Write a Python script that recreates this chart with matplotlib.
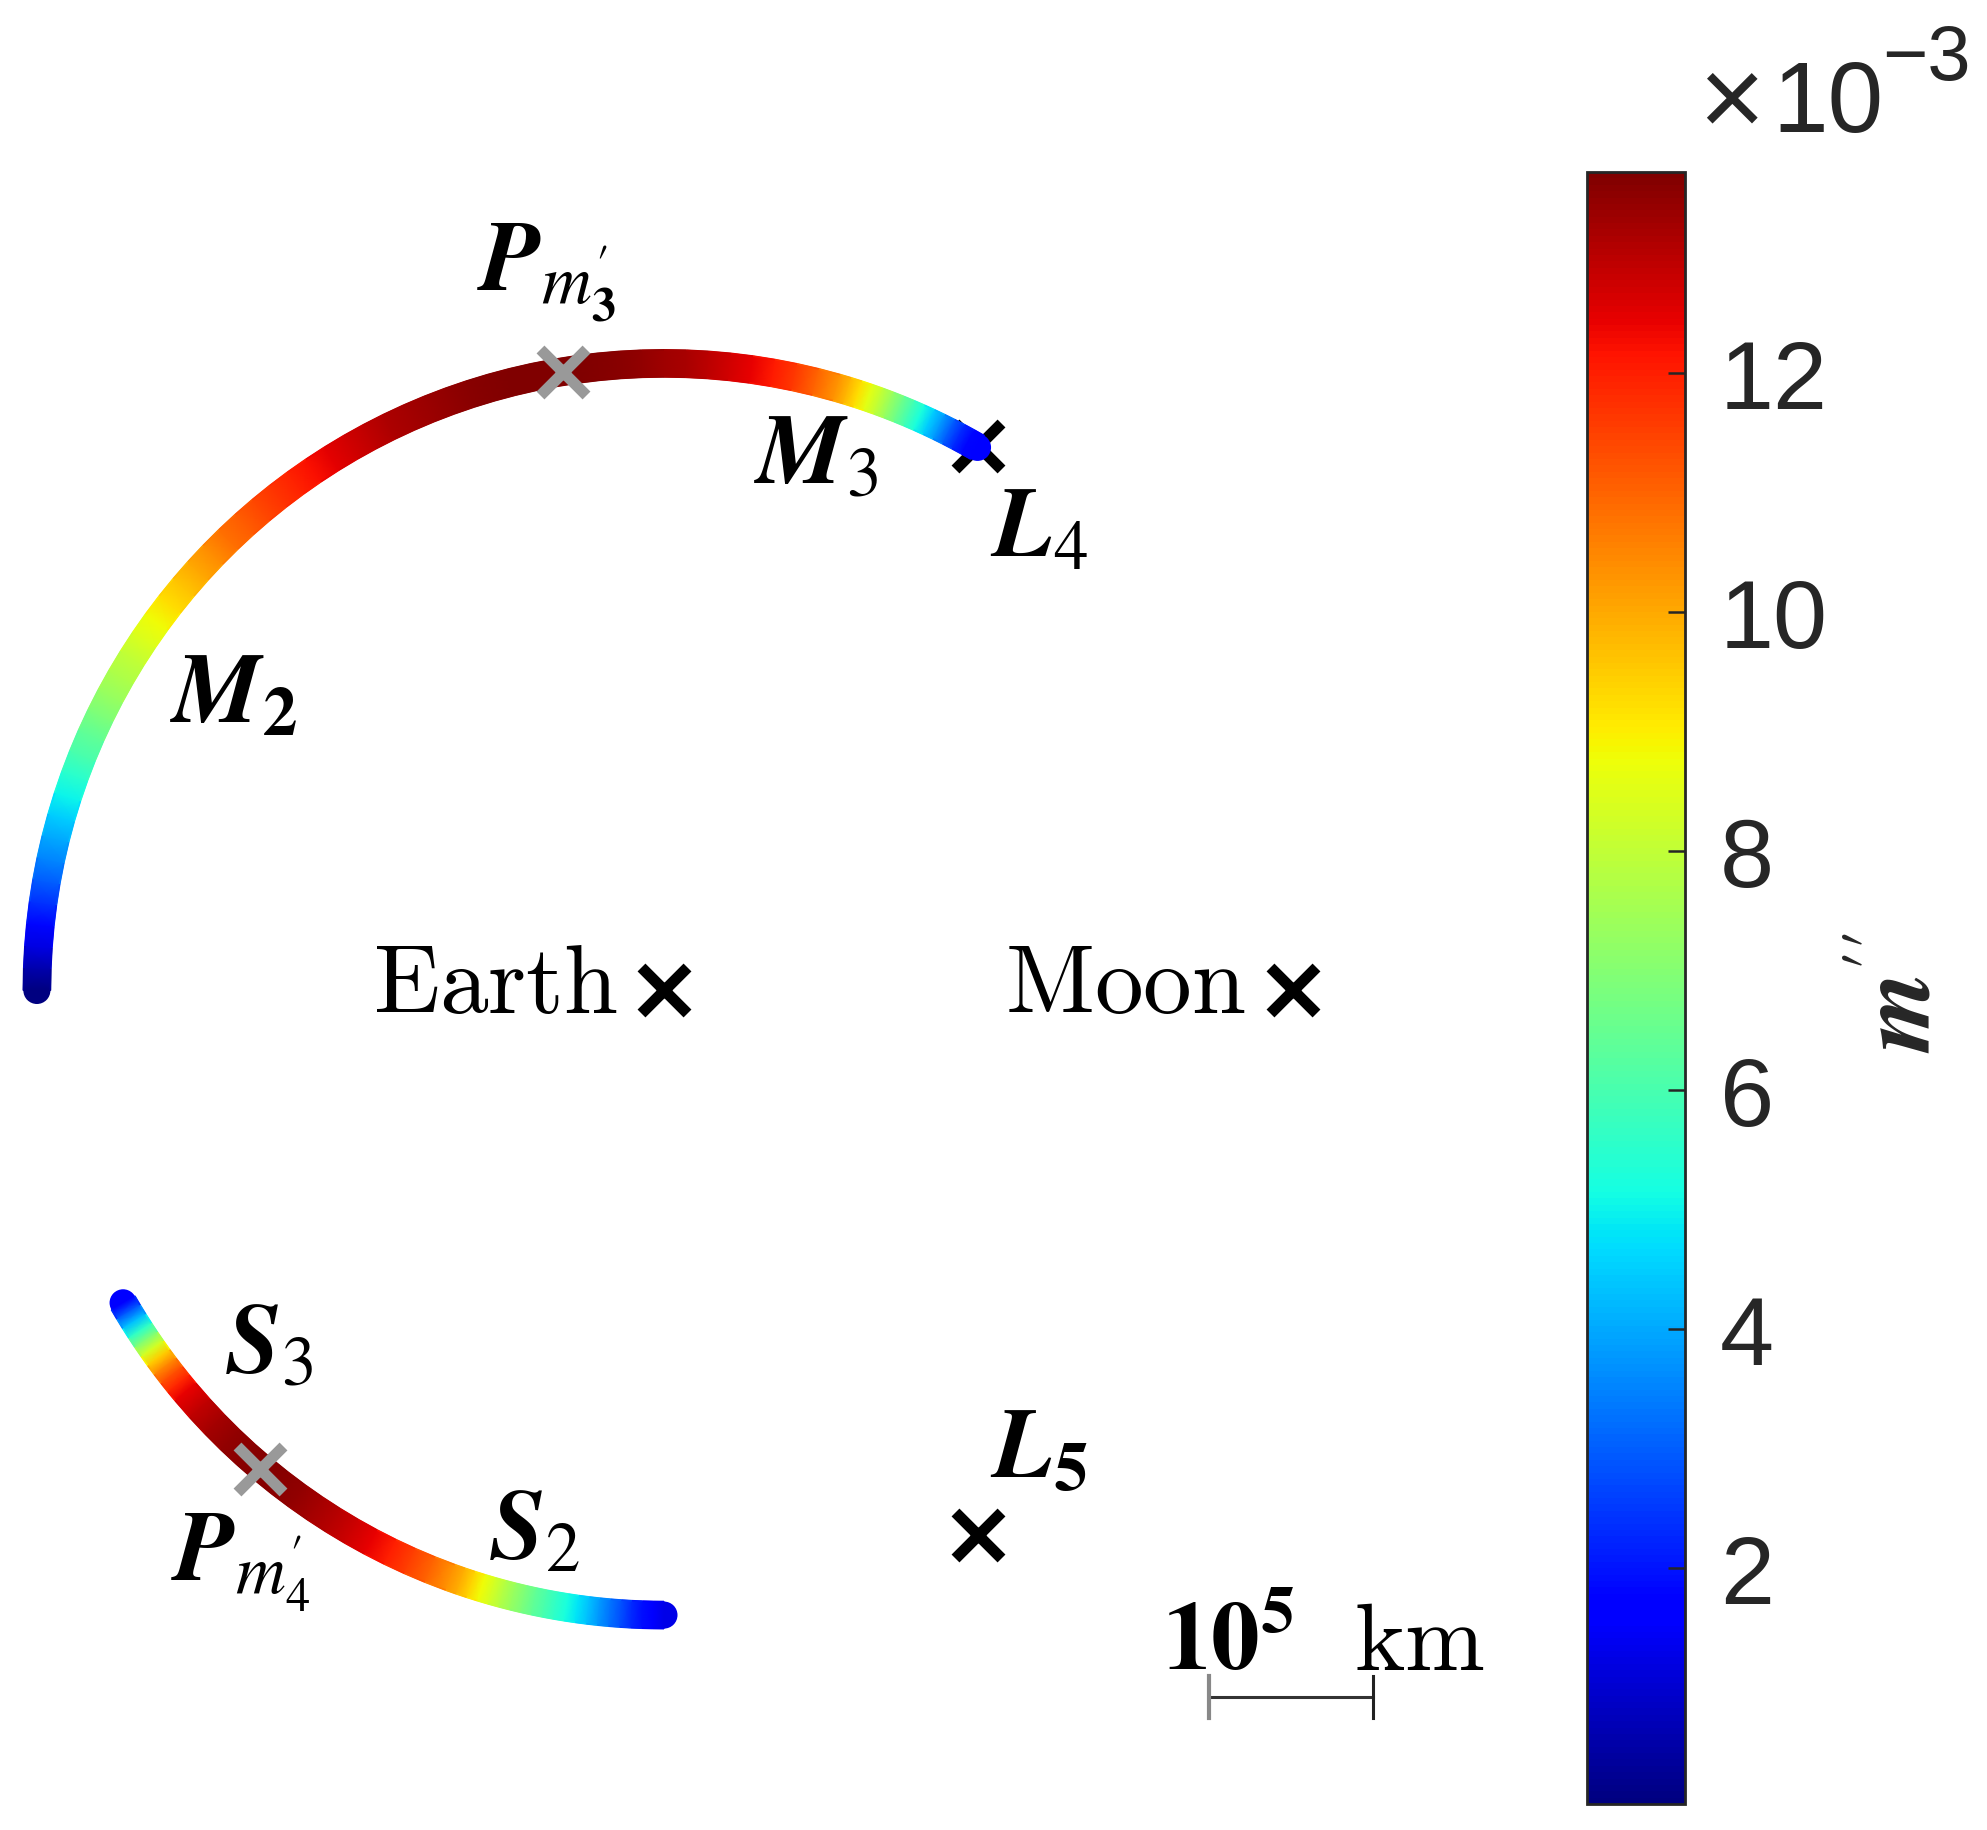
import numpy as np
import matplotlib
matplotlib.use('Agg')
import matplotlib.pyplot as plt
from matplotlib.collections import LineCollection
from matplotlib.colors import Normalize
from matplotlib.patches import Circle
import matplotlib.cm as cm

plt.rcParams['font.family'] = ['Liberation Sans', 'DejaVu Sans']

# ---------------- data (normalized Earth-Moon rotating frame) ----------------
mu = 0.01215
body_names = ['Earth', 'Moon']
body_x = [-mu, 1 - mu]
body_y = [0.0, 0.0]
lagrange_names = ['L4', 'L5']
lagrange_x = [0.5 - mu, 0.5 - mu]
lagrange_y = [np.sqrt(3) / 2, -np.sqrt(3) / 2]

# upper family (M2 -> M3), polar angle about Earth [deg] and m'' [x1e-3]
upper_theta = [180, 178, 176, 174, 172, 170, 168, 166, 164, 162, 160, 158, 156, 154,
               152, 150, 148, 146, 144, 142, 140, 138, 136, 134, 132, 130, 128, 126,
               124, 122, 120, 118, 116, 114, 112, 110, 108, 106, 104, 102, 100, 98,
               96, 94, 92, 90, 88, 86, 84, 82, 80, 78, 76, 74, 73, 72, 71, 70, 69,
               68, 67, 66, 65, 64, 63, 62, 61, 60]
upper_m = [0.021, 0.6, 1.2, 1.8, 2.4, 3.0, 3.5, 4.0, 4.5, 5.0, 5.5, 6.0, 6.4, 6.9,
           7.3, 7.7, 8.0, 8.4, 8.8, 9.2, 9.6, 10.0, 10.4, 10.8, 11.1, 11.4, 11.7, 11.95,
           12.2, 12.5, 12.7, 12.9, 13.1, 13.25, 13.35, 13.45, 13.55, 13.6, 13.65, 13.67, 13.68, 13.67,
           13.62, 13.55, 13.45, 13.3, 13.15, 12.95, 12.7, 12.4, 12.05, 11.6, 11.0, 10.3, 9.8, 9.2, 8.6, 8.0, 7.3,
           6.6, 5.9, 5.2, 4.5, 3.8, 3.0, 2.3, 1.8, 1.6]
upper_radius = 0.997

# lower family (S3 -> S2)
lower_theta = [210, 211, 212, 213, 214, 215, 216, 217, 218, 219, 220, 222, 224, 226,
               228, 230, 232, 234, 236, 238, 240, 242, 244, 246, 248, 250, 251, 252,
               253, 254, 255, 256, 257, 258, 259, 260, 261, 262, 263, 264, 265, 266,
               267, 268, 269, 270]
lower_m = [1.7, 3.0, 4.3, 5.6, 7.0, 8.3, 9.5, 10.5, 11.3, 11.9, 12.4, 12.9, 13.25, 13.45,
           13.55, 13.6, 13.55, 13.45, 13.25, 13.0, 12.75, 12.4, 12.0, 11.5, 11.0, 10.3, 9.9, 9.4,
           8.8, 8.3, 7.8, 7.3, 6.9, 6.4, 6.0, 5.6, 5.2, 4.8, 4.3, 3.8, 3.3, 2.8,
           2.3, 1.9, 1.6, 1.3]
lower_radius = 0.993

# points of maximum m'' (P_m3', P_m4')
pmax_x = [-0.1728, -0.6550]
pmax_y = [0.9833, -0.7603]

cbar_ticks = [2, 4, 6, 8, 10, 12]
cbar_ticklabels = ['2', '4', '6', '8', '10', '12']
scale_km = 1e5
earth_moon_km = 384400.0

# ---------------- figure ----------------
W, H = 1987, 1831
fig = plt.figure(figsize=(W / 100, H / 100), dpi=100)
ax = fig.add_axes([0, 0, 1560 / W, 1])
ax.set_xlim(-1.0678, 1.4124)
ax.set_ylim(-1.3347, 1.5763)
ax.axis('off')

allv = np.array(upper_m + lower_m)
norm = Normalize(vmin=allv.min(), vmax=allv.max())
cmap = plt.get_cmap('jet')
HALF_W = 0.0215  # half stroke width in data units


def draw_arc(theta, vals, r):
    t = np.deg2rad(np.asarray(theta, float))
    v = np.asarray(vals, float)
    rr = np.array([[r - HALF_W], [r + HALF_W]])
    X = body_x[0] + rr * np.cos(t)[None, :]
    Y = rr * np.sin(t)[None, :]
    C = np.vstack([v, v])
    ax.pcolormesh(X, Y, C, cmap=cmap, norm=norm, shading='gouraud', zorder=3)
    # soft antialiased edges
    for k in range(2):
        pts = np.column_stack([X[k], Y[k]]).reshape(-1, 1, 2)
        segs = np.concatenate([pts[:-1], pts[1:]], axis=1)
        lc = LineCollection(segs, cmap=cmap, norm=norm, linewidths=1.2,
                            capstyle='butt', zorder=3.05)
        lc.set_array(0.5 * (v[:-1] + v[1:]))
        ax.add_collection(lc)
    # round end caps
    for i in (0, -1):
        ax.add_patch(Circle((body_x[0] + r * np.cos(t[i]), r * np.sin(t[i])), HALF_W,
                            facecolor=cmap(norm(v[i])), edgecolor='none', zorder=2.9))


draw_arc(upper_theta, upper_m, upper_radius)
draw_arc(lower_theta, lower_m, lower_radius)

ax.plot(body_x, body_y, 'x', color='k', ms=33, mew=8, zorder=2)
ax.plot(lagrange_x, lagrange_y, 'x', color='k', ms=33, mew=8, zorder=2)
ax.plot(pmax_x, pmax_y, 'x', color='#999999', ms=33, mew=8, zorder=4)

# labels
lab_kw = dict(fontsize=71, math_fontfamily='stix', ha='center', va='center', color='k', zorder=5)
ax.text(-0.1998, 1.1412, r"$\mathbfit{P}_{m_{\mathbf{3}}^{\prime}}$", **lab_kw)
ax.text(0.2294, 0.8491, r"$\mathbfit{M}_{3}$", **lab_kw)
ax.text(0.5838, 0.7323, r"$\mathbfit{L}_{4}$", **lab_kw)
ax.text(-0.6973, 0.4684, r"$\mathbfit{M}_{\mathbf{2}}$", **lab_kw)
ax.text(-0.6408, -0.5649, r"$\mathbfit{S}_{3}$", **lab_kw)
ax.text(-0.6852, -0.9073, r"$\mathbfit{P}_{m_{4}^{\prime}}$", **lab_kw)
ax.text(-0.2178, -0.8611, r"$\mathbfit{S}_{2}$", **lab_kw)
ax.text(0.5838, -0.7321, r"$\mathbfit{L}_{\mathbf{5}}$", **lab_kw)

ax.text(-0.0853, -0.0342, r'$\mathrm{' + body_names[0] + '}$', fontsize=70,
        math_fontfamily='cm', ha='right', va='baseline')
ax.text(0.9131, -0.0342, r'$\mathrm{' + body_names[1] + '}$', fontsize=70,
        math_fontfamily='cm', ha='right', va='baseline')

# scale bar
sb_len = scale_km / earth_moon_km
sb_x0, sb_y = 0.8543, -1.1232
ax.plot([sb_x0, sb_x0 + sb_len], [sb_y, sb_y], color='#333333', lw=2.2, zorder=5)
ax.plot([sb_x0, sb_x0], [sb_y - 0.0334, sb_y + 0.0334], color='#888888', lw=3, zorder=5)
ax.plot([sb_x0 + sb_len, sb_x0 + sb_len], [sb_y - 0.0334, sb_y + 0.0334], color='#222222', lw=2.2, zorder=5)
ax.text(0.7795, -1.0787, r'$\mathbf{10^{5}}$', fontsize=70,
        math_fontfamily='stix', ha='left', va='baseline')
ax.text(1.0852, -1.0787, r'$\mathrm{km}$', fontsize=69,
        math_fontfamily='cm', ha='left', va='baseline')

# colorbar
cax = fig.add_axes([1587 / W, 26 / H, 98 / W, 1632 / H])
sm = cm.ScalarMappable(norm=norm, cmap=cmap)
cb = fig.colorbar(sm, cax=cax)
cb.set_ticks(cbar_ticks)
cb.set_ticklabels(cbar_ticklabels)
cax.tick_params(axis='y', direction='in', length=12, width=1.8, labelsize=70, pad=25,
                colors='#262626', right=True, left=False, labelright=True, labelleft=False)
for lbl in cax.get_yticklabels():
    lbl.set_family('Liberation Sans')
cb.outline.set_edgecolor('#262626')
cb.outline.set_linewidth(2)

fig.text(1698 / W, 1 - 106 / H, '\u00d7', fontsize=82, family='Liberation Sans',
         color='#262626', ha='left', va='center')
fig.text(1772 / W, 1 - 132 / H, '10', fontsize=72, family='Liberation Sans',
         color='#262626', ha='left', va='baseline')
fig.text(1882 / W, 1 - 80 / H, '\u22123', fontsize=56, family='Liberation Sans',
         color='#262626', ha='left', va='baseline')
fig.text(1903 / W, 1 - 992 / H, r"$\mathbfit{m}^{\prime\prime}$", rotation=90, fontsize=74,
         math_fontfamily='stix', ha='center', va='center', color='#262626')

fig.savefig('out.png', dpi=100)
